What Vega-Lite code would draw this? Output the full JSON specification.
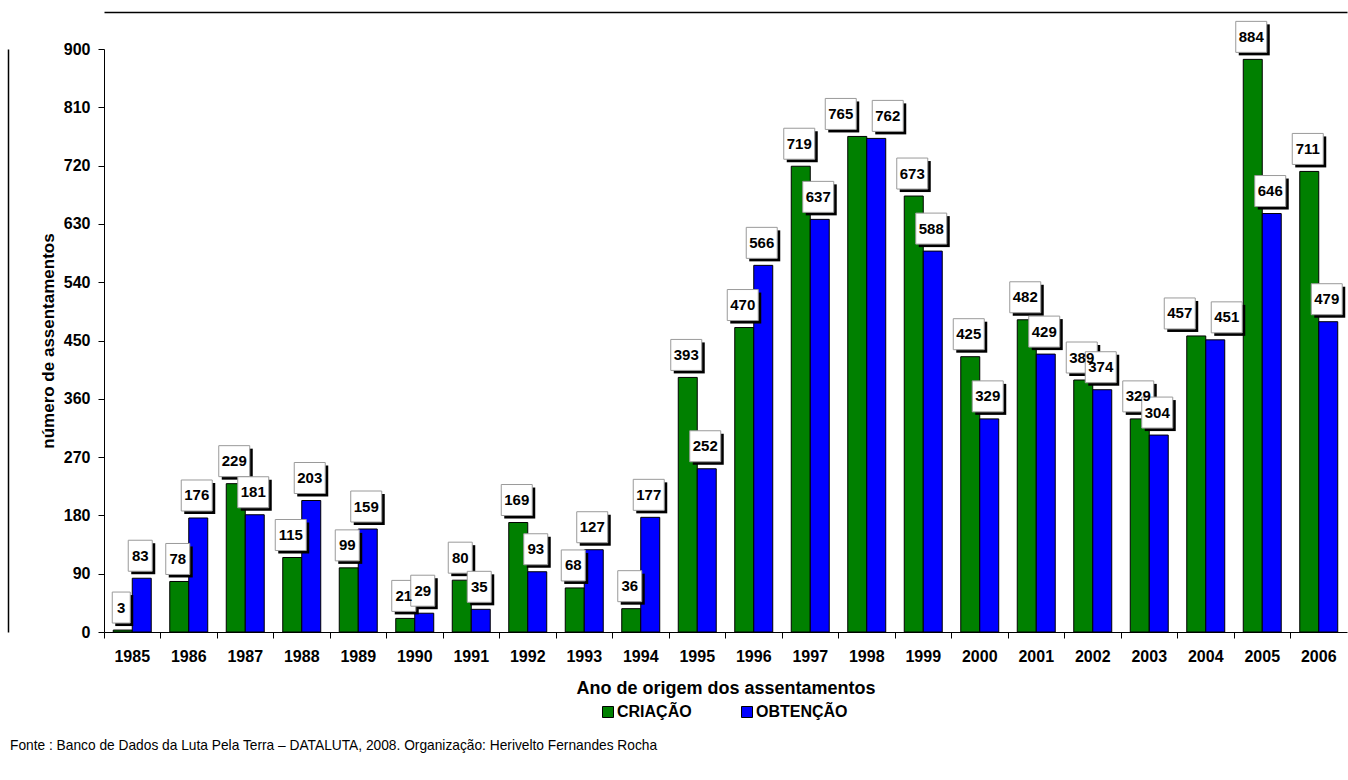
{
  "$schema": "https://vega.github.io/schema/vega-lite/v6.json",
  "width": 1243,
  "height": 583,
  "autosize": {"type": "none"},
  "padding": {"left": 104, "top": 49, "right": 1, "bottom": 148},
  "background": "white",
  "config": {
    "font": "Liberation Sans",
    "view": {"stroke": null},
    "axis": {
      "labelFont": "Liberation Sans",
      "labelFontWeight": "bold",
      "labelColor": "black",
      "titleFont": "Liberation Sans",
      "titleFontWeight": "bold",
      "titleColor": "black",
      "domainColor": "black",
      "tickColor": "black",
      "grid": false
    }
  },
  "title": {
    "text": "Fonte : Banco de Dados da Luta Pela Terra – DATALUTA, 2008. Organização: Herivelto Fernandes Rocha",
    "orient": "bottom",
    "anchor": "start",
    "frame": "bounds",
    "font": "Liberation Sans",
    "fontSize": 13.75,
    "fontWeight": "normal",
    "color": "black",
    "offset": 19,
    "dx": 2
  },
  "data": {
    "values": [
      {"ano": "1985", "tipo": "CRIAÇÃO", "valor": 3},
      {"ano": "1986", "tipo": "CRIAÇÃO", "valor": 78},
      {"ano": "1987", "tipo": "CRIAÇÃO", "valor": 229},
      {"ano": "1988", "tipo": "CRIAÇÃO", "valor": 115},
      {"ano": "1989", "tipo": "CRIAÇÃO", "valor": 99},
      {"ano": "1990", "tipo": "CRIAÇÃO", "valor": 21},
      {"ano": "1991", "tipo": "CRIAÇÃO", "valor": 80},
      {"ano": "1992", "tipo": "CRIAÇÃO", "valor": 169},
      {"ano": "1993", "tipo": "CRIAÇÃO", "valor": 68},
      {"ano": "1994", "tipo": "CRIAÇÃO", "valor": 36},
      {"ano": "1995", "tipo": "CRIAÇÃO", "valor": 393},
      {"ano": "1996", "tipo": "CRIAÇÃO", "valor": 470},
      {"ano": "1997", "tipo": "CRIAÇÃO", "valor": 719},
      {"ano": "1998", "tipo": "CRIAÇÃO", "valor": 765},
      {"ano": "1999", "tipo": "CRIAÇÃO", "valor": 673},
      {"ano": "2000", "tipo": "CRIAÇÃO", "valor": 425},
      {"ano": "2001", "tipo": "CRIAÇÃO", "valor": 482},
      {"ano": "2002", "tipo": "CRIAÇÃO", "valor": 389},
      {"ano": "2003", "tipo": "CRIAÇÃO", "valor": 329},
      {"ano": "2004", "tipo": "CRIAÇÃO", "valor": 457},
      {"ano": "2005", "tipo": "CRIAÇÃO", "valor": 884},
      {"ano": "2006", "tipo": "CRIAÇÃO", "valor": 711},
      {"ano": "1985", "tipo": "OBTENÇÃO", "valor": 83},
      {"ano": "1986", "tipo": "OBTENÇÃO", "valor": 176},
      {"ano": "1987", "tipo": "OBTENÇÃO", "valor": 181},
      {"ano": "1988", "tipo": "OBTENÇÃO", "valor": 203},
      {"ano": "1989", "tipo": "OBTENÇÃO", "valor": 159},
      {"ano": "1990", "tipo": "OBTENÇÃO", "valor": 29},
      {"ano": "1991", "tipo": "OBTENÇÃO", "valor": 35},
      {"ano": "1992", "tipo": "OBTENÇÃO", "valor": 93},
      {"ano": "1993", "tipo": "OBTENÇÃO", "valor": 127},
      {"ano": "1994", "tipo": "OBTENÇÃO", "valor": 177},
      {"ano": "1995", "tipo": "OBTENÇÃO", "valor": 252},
      {"ano": "1996", "tipo": "OBTENÇÃO", "valor": 566},
      {"ano": "1997", "tipo": "OBTENÇÃO", "valor": 637},
      {"ano": "1998", "tipo": "OBTENÇÃO", "valor": 762},
      {"ano": "1999", "tipo": "OBTENÇÃO", "valor": 588},
      {"ano": "2000", "tipo": "OBTENÇÃO", "valor": 329},
      {"ano": "2001", "tipo": "OBTENÇÃO", "valor": 429},
      {"ano": "2002", "tipo": "OBTENÇÃO", "valor": 374},
      {"ano": "2003", "tipo": "OBTENÇÃO", "valor": 304},
      {"ano": "2004", "tipo": "OBTENÇÃO", "valor": 451},
      {"ano": "2005", "tipo": "OBTENÇÃO", "valor": 646},
      {"ano": "2006", "tipo": "OBTENÇÃO", "valor": 479}
    ]
  },
  "transform": [
    {"joinaggregate": [{"op": "min", "field": "valor", "as": "vmin"}, {"op": "max", "field": "valor", "as": "vmax"}], "groupby": ["ano"]},
    {"calculate": "length(toString(datum.valor))", "as": "nd"},
    {"calculate": "(datum.vmax - datum.vmin) / datum.vmax < 0.03 ? (datum.tipo == 'CRIAÇÃO' ? 'L' : 'R') : 'C'", "as": "desvio"},
    {"calculate": "datum.nd + datum.desvio", "as": "caixa"}
  ],
  "layer": [
    {
      "mark": {"type": "bar", "stroke": "black", "strokeWidth": 1},
      "encoding": {
        "x": {
          "field": "ano", "type": "ordinal",
          "scale": {"type": "band", "paddingInner": 0, "paddingOuter": 0},
          "axis": {"orient": "bottom", "bandPosition": 0, "labels": false, "ticks": true, "tickSize": 6, "domain": true, "title": null}
        },
        "xOffset": {"field": "tipo", "type": "nominal", "scale": {"type": "band", "paddingInner": 0, "paddingOuter": 0.487}},
        "y": {
          "field": "valor", "type": "quantitative",
          "scale": {"domain": [0, 900], "nice": false, "zero": true},
          "axis": {
            "orient": "left",
            "values": [0, 90, 180, 270, 360, 450, 540, 630, 720, 810, 900],
            "tickSize": 6,
            "labelFontSize": 16,
            "labelPadding": 8,
            "title": "número de assentamentos",
            "titleFontSize": 17,
            "titlePadding": 6
          }
        },
        "color": {
          "field": "tipo", "type": "nominal",
          "scale": {"domain": ["CRIAÇÃO", "OBTENÇÃO"], "range": ["#008000", "#0000FF"]},
          "legend": {
            "orient": "none",
            "legendX": 496,
            "legendY": 655,
            "direction": "horizontal",
            "title": null,
            "padding": 0,
            "symbolType": "square",
            "symbolSize": 121,
            "symbolStrokeColor": "black",
            "symbolStrokeWidth": 1,
            "symbolOpacity": 1,
            "labelFont": "Liberation Sans",
            "labelFontSize": 16,
            "labelFontWeight": "bold",
            "labelColor": "black",
            "labelOffset": 1,
            "columnPadding": 47
          }
        }
      }
    },
    {
      "mark": {"type": "point", "filled": true, "fill": "black", "strokeWidth": 0, "opacity": 1, "size": 3600},
      "encoding": {
        "x": {
          "field": "ano", "type": "ordinal",
          "scale": {"type": "band", "paddingInner": 0, "paddingOuter": 0},
          "axis": {"orient": "bottom", "domain": false, "ticks": false, "tickSize": 0, "labelFontSize": 16, "labelPadding": 16, "labelAngle": 0, "title": "Ano de origem dos assentamentos", "titleFontSize": 18, "titlePadding": 15}
        },
        "xOffset": {"field": "tipo", "type": "nominal", "scale": {"type": "band", "paddingInner": 0, "paddingOuter": 0.487}},
        "y": {
          "field": "valor", "type": "quantitative",
          "scale": {"domain": [0, 900], "nice": false, "zero": true},
          "axis": {"orient": "left", "offset": 96, "labels": false, "ticks": false, "title": null, "domainWidth": 1.5}
        },
        "shape": {
          "field": "caixa", "type": "nominal", "legend": null,
          "scale": {
            "domain": ["1C", "2C", "3C", "1L", "2L", "3L", "1R", "2R", "3R"],
            "range": [
              "M-0.25,-1.16667L0.35,-1.16667L0.35,-0.13333L-0.25,-0.13333Z",
              "M-0.35,-1.16667L0.45,-1.16667L0.45,-0.13333L-0.35,-0.13333Z",
              "M-0.46667,-1.16667L0.56667,-1.16667L0.56667,-0.13333L-0.46667,-0.13333Z",
              "M-0.75,-1.16667L-0.15,-1.16667L-0.15,-0.13333L-0.75,-0.13333Z",
              "M-0.85,-1.16667L-0.05,-1.16667L-0.05,-0.13333L-0.85,-0.13333Z",
              "M-0.96667,-1.16667L0.06667,-1.16667L0.06667,-0.13333L-0.96667,-0.13333Z",
              "M0.18333,-1.16667L0.78333,-1.16667L0.78333,-0.13333L0.18333,-0.13333Z",
              "M0.08333,-1.16667L0.88333,-1.16667L0.88333,-0.13333L0.08333,-0.13333Z",
              "M-0.03333,-1.16667L1,-1.16667L1,-0.13333L-0.03333,-0.13333Z"
            ]
          }
        }
      }
    },
    {
      "mark": {"type": "point", "filled": true, "fill": "white", "stroke": "#9a9a9a", "strokeWidth": 1, "opacity": 1, "size": 3600},
      "encoding": {
        "x": {
          "field": "ano", "type": "ordinal",
          "scale": {"type": "band", "paddingInner": 0, "paddingOuter": 0},
          "axis": {"orient": "top", "offset": 37, "labels": false, "ticks": false, "title": null, "domainWidth": 1.5}
        },
        "xOffset": {"field": "tipo", "type": "nominal", "scale": {"type": "band", "paddingInner": 0, "paddingOuter": 0.487}},
        "y": {"field": "valor", "type": "quantitative", "scale": {"domain": [0, 900], "nice": false, "zero": true}, "axis": null},
        "shape": {
          "field": "caixa", "type": "nominal", "legend": null,
          "scale": {
            "domain": ["1C", "2C", "3C", "1L", "2L", "3L", "1R", "2R", "3R"],
            "range": [
              "M-0.35,-1.26667L0.25,-1.26667L0.25,-0.23333L-0.35,-0.23333Z",
              "M-0.45,-1.26667L0.35,-1.26667L0.35,-0.23333L-0.45,-0.23333Z",
              "M-0.56667,-1.26667L0.46667,-1.26667L0.46667,-0.23333L-0.56667,-0.23333Z",
              "M-0.85,-1.26667L-0.25,-1.26667L-0.25,-0.23333L-0.85,-0.23333Z",
              "M-0.95,-1.26667L-0.15,-1.26667L-0.15,-0.23333L-0.95,-0.23333Z",
              "M-1.06667,-1.26667L-0.03333,-1.26667L-0.03333,-0.23333L-1.06667,-0.23333Z",
              "M0.08333,-1.26667L0.68333,-1.26667L0.68333,-0.23333L0.08333,-0.23333Z",
              "M-0.01667,-1.26667L0.78333,-1.26667L0.78333,-0.23333L-0.01667,-0.23333Z",
              "M-0.13333,-1.26667L0.9,-1.26667L0.9,-0.23333L-0.13333,-0.23333Z"
            ]
          }
        }
      }
    },
    {
      "transform": [{"filter": "datum.desvio == 'C'"}],
      "mark": {"type": "text", "font": "Liberation Sans", "fontSize": 15, "fontWeight": "bold", "color": "black", "baseline": "middle", "align": "center", "dx": -1.5, "dy": -22.5},
      "encoding": {
        "x": {"field": "ano", "type": "ordinal", "scale": {"type": "band", "paddingInner": 0, "paddingOuter": 0}, "axis": null},
        "xOffset": {"field": "tipo", "type": "nominal", "scale": {"type": "band", "paddingInner": 0, "paddingOuter": 0.487}},
        "y": {"field": "valor", "type": "quantitative", "scale": {"domain": [0, 900], "nice": false, "zero": true}, "axis": null},
        "text": {"field": "valor", "type": "quantitative"}
      }
    },
    {
      "transform": [{"filter": "datum.desvio == 'L'"}],
      "mark": {"type": "text", "font": "Liberation Sans", "fontSize": 15, "fontWeight": "bold", "color": "black", "baseline": "middle", "align": "center", "dx": -16.5, "dy": -22.5},
      "encoding": {
        "x": {"field": "ano", "type": "ordinal", "scale": {"type": "band", "paddingInner": 0, "paddingOuter": 0}, "axis": null},
        "xOffset": {"field": "tipo", "type": "nominal", "scale": {"type": "band", "paddingInner": 0, "paddingOuter": 0.487}},
        "y": {"field": "valor", "type": "quantitative", "scale": {"domain": [0, 900], "nice": false, "zero": true}, "axis": null},
        "text": {"field": "valor", "type": "quantitative"}
      }
    },
    {
      "transform": [{"filter": "datum.desvio == 'R'"}],
      "mark": {"type": "text", "font": "Liberation Sans", "fontSize": 15, "fontWeight": "bold", "color": "black", "baseline": "middle", "align": "center", "dx": 11.5, "dy": -22.5},
      "encoding": {
        "x": {"field": "ano", "type": "ordinal", "scale": {"type": "band", "paddingInner": 0, "paddingOuter": 0}, "axis": null},
        "xOffset": {"field": "tipo", "type": "nominal", "scale": {"type": "band", "paddingInner": 0, "paddingOuter": 0.487}},
        "y": {"field": "valor", "type": "quantitative", "scale": {"domain": [0, 900], "nice": false, "zero": true}, "axis": null},
        "text": {"field": "valor", "type": "quantitative"}
      }
    }
  ],
  "resolve": {
    "axis": {"x": "independent", "y": "independent"},
    "scale": {"shape": "independent"}
  }
}
